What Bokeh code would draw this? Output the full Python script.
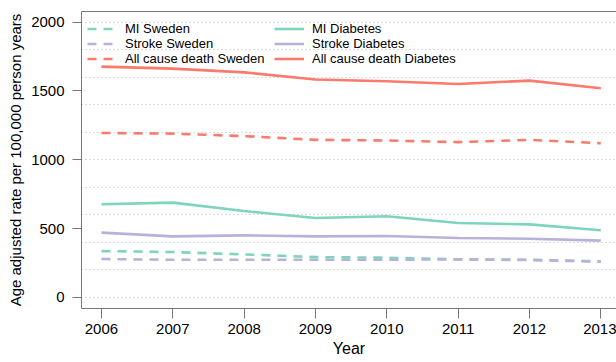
from bokeh.plotting import figure
from bokeh.models import (Legend, LegendItem, LinearAxis, FixedTicker,
                          SingleIntervalTicker, Range1d)
from bokeh.embed import file_html
from bokeh.resources import INLINE

# Age adjusted rates per 100,000 person years, 2006-2013
years = [2006, 2007, 2008, 2009, 2010, 2011, 2012, 2013]
mi_sweden = [337, 330, 313, 293, 289, 277, 274, 262]
stroke_sweden = [279, 274, 274, 274, 274, 277, 272, 260]
death_sweden = [1195, 1190, 1172, 1145, 1140, 1128, 1145, 1120]
mi_diabetes = [677, 689, 628, 577, 590, 541, 531, 488]
stroke_diabetes = [471, 444, 451, 444, 446, 432, 427, 413]
death_diabetes = [1677, 1662, 1635, 1583, 1570, 1550, 1575, 1520]

y_ticks = [0, 500, 1000, 1500, 2000]

TEAL = "#7DD5BC"
PURPLE = "#B9B1DC"
RED = "#FA7B6B"
FRAME = "#777777"
FONT = "Liberation Sans"

p = figure(width=616, height=362, output_backend="svg", toolbar_location=None,
           x_range=Range1d(2005.72, 2013.22), y_range=Range1d(-80, 2077),
           min_border_left=81, min_border_right=0, min_border_top=11,
           min_border_bottom=54)
p.outline_line_color = None
p.background_fill_color = "white"
p.border_fill_color = "white"

# axes
p.xaxis.ticker = FixedTicker(ticks=years)
p.yaxis.ticker = FixedTicker(ticks=y_ticks)
for ax in (p.xaxis[0], p.yaxis[0]):
    ax.axis_line_color = FRAME
    ax.major_tick_line_color = FRAME
    ax.minor_tick_line_color = None
    ax.major_tick_in = 0
    ax.major_tick_out = 9
    ax.major_label_text_font = FONT
    ax.major_label_text_font_size = "15px"
    ax.major_label_text_color = "black"
    ax.axis_label_text_font = FONT
    ax.axis_label_text_font_size = "16px"
    ax.axis_label_text_font_style = "normal"
    ax.axis_label_text_color = "black"
p.xaxis.major_tick_out = 10
p.xaxis.major_label_standoff = 5
p.xaxis.axis_label = "Year"
p.xaxis.axis_label_standoff = 3
p.yaxis.major_label_standoff = 8
p.yaxis.axis_label = "Age adjusted rate per 100,000 person years"
p.yaxis.axis_label_text_font_size = "15px"
p.yaxis.axis_label_standoff = 4

# top border of the panel (an axis without ticks)
top = LinearAxis(ticker=FixedTicker(ticks=[]), axis_line_color=FRAME,
                 major_tick_line_color=None, minor_tick_line_color=None,
                 major_tick_out=0, major_label_standoff=0)
p.add_layout(top, "above")

# dotted horizontal grid every 200
p.xgrid.grid_line_color = None
p.ygrid.ticker = SingleIntervalTicker(interval=200)
p.ygrid.grid_line_color = "#BBBBBB"
p.ygrid.grid_line_dash = "1 3"
p.ygrid.grid_line_width = 1

DASH = "9 7"
LW = 2.6
r_mi_sw = p.line(years, mi_sweden, line_color=TEAL, line_width=LW, line_dash=DASH)
r_st_sw = p.line(years, stroke_sweden, line_color=PURPLE, line_width=LW, line_dash=DASH)
r_de_sw = p.line(years, death_sweden, line_color=RED, line_width=LW, line_dash=DASH)
r_mi_db = p.line(years, mi_diabetes, line_color=TEAL, line_width=LW)
r_st_db = p.line(years, stroke_diabetes, line_color=PURPLE, line_width=LW)
r_de_db = p.line(years, death_diabetes, line_color=RED, line_width=LW)


def make_legend(items, loc):
    lg = Legend(items=[LegendItem(label=l, renderers=[r]) for l, r in items],
                location=loc, orientation="vertical",
                border_line_color=None, background_fill_alpha=0,
                label_text_font=FONT, label_text_font_size="13px",
                label_text_color="black", glyph_width=30, glyph_height=15,
                label_height=15, label_standoff=8, spacing=0, padding=5,
                margin=0)
    return lg


p.add_layout(make_legend([("MI Sweden", r_mi_sw), ("Stroke Sweden", r_st_sw),
                          ("All cause death Sweden", r_de_sw)], (6, 242)))
p.add_layout(make_legend([("MI Diabetes", r_mi_db), ("Stroke Diabetes", r_st_db),
                          ("All cause death Diabetes", r_de_db)], (193, 242)))

open("out.html", "w").write(file_html(p, INLINE))
